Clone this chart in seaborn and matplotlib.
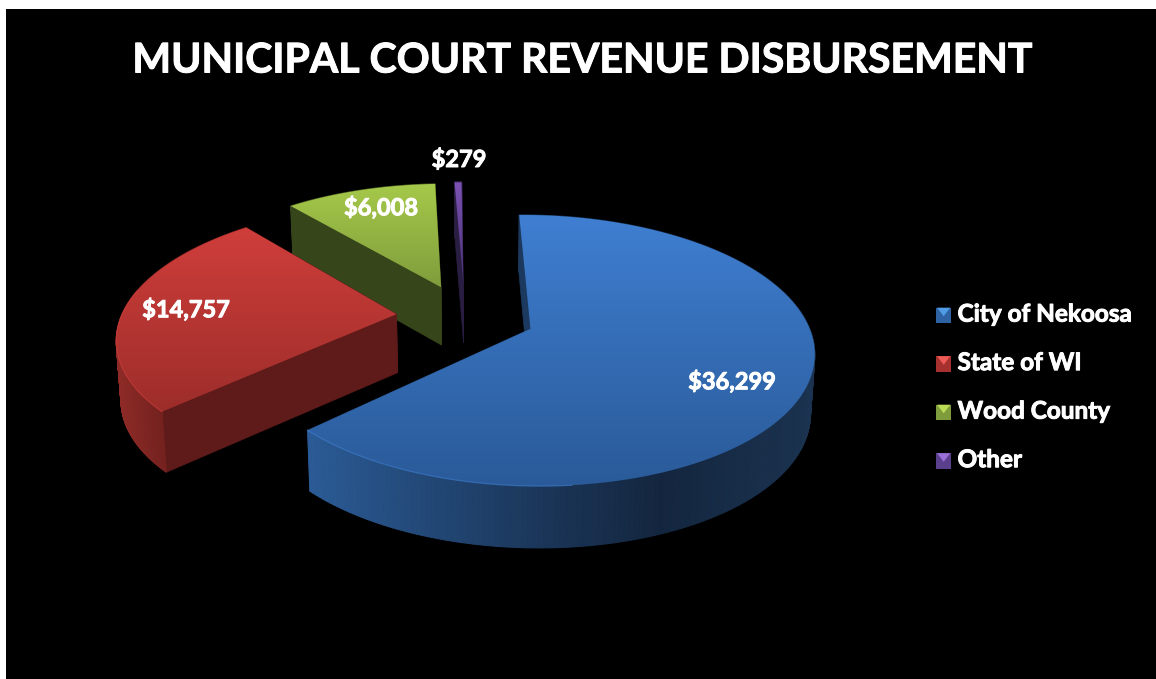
import numpy as np
import seaborn as sns
import matplotlib.pyplot as plt
import matplotlib.patheffects as pe
from matplotlib.collections import PolyCollection
from matplotlib.colors import LinearSegmentedColormap, to_rgb
from matplotlib.legend_handler import HandlerBase
from matplotlib.patches import Patch, Polygon

# Values
categories = ["City of Nekoosa", "State of WI", "Wood County", "Other"]
revenue = [36299, 14757, 6008, 279]
value_labels = ["$36,299", "$14,757", "$6,008", "$279"]
title = "MUNICIPAL COURT REVENUE DISBURSEMENT"

# Look of each slice
explode = [0.255, 0.25, 0.25, 0.25]
top_light = ["#3f7fd2", "#d03e3b", "#a6ca4a", "#7d52b5"]
top_dark = ["#2a5a98", "#9c2d2a", "#7f9c3c", "#44306e"]
legend_main = ["#2f62a3", "#a5302d", "#7f9c3c", "#5a3f8c"]
legend_light = ["#4f9be6", "#ee5a55", "#bddc55", "#9a70d8"]
cut_colour = ["#1c3a5f", "#5e1b19", "#37451a", "#2a1d42"]
side_x = [[306, 540, 660, 814], [116, 168, 168, 398], [290, 441, 441, 441], [455, 465, 465, 465]]
side_colour = [["#2b5b96", "#1b3659", "#14263f", "#1b3350"],
               ["#8f2b27", "#70201e", "#70201e", "#5e1b19"],
               ["#37451a", "#37451a", "#37451a", "#37451a"],
               ["#2a1d42", "#2a1d42", "#2a1d42", "#2a1d42"]]
label_pos = [(732, 381), (186, 309), (381, 207), (459, 159)]

# Camera for the tilted pie, in pixels of the picture
W, H = 1156, 679
CX, CY = 465, 316
VX = 480
RX, RY = 275, 128
K = 0.157


def project(x, y, z=0.0):
    s = 1 / (1 + K * y)
    px = VX + (CX - VX + RX * x) * s
    py = CY - RY * y * s
    depth = (58.5 - 3 * y) * z
    px = VX + (px - VX) * (1 - 0.013 * z)
    return px, py + depth


def hex_mix(xs, colours, x):
    rgb = np.array([to_rgb(c) for c in colours])
    return tuple(np.interp(x, xs, rgb[:, i]) for i in range(3))


class BevelHandler(HandlerBase):
    def create_artists(self, legend, orig_handle, xdescent, ydescent, width, height, fontsize, trans):
        s = height * 0.92
        x0, y0 = -xdescent + width - s, -ydescent - height * 0.1
        square = Polygon([(x0, y0), (x0 + s, y0), (x0 + s, y0 + s), (x0, y0 + s)],
                         facecolor=orig_handle.get_facecolor(), edgecolor="none", transform=trans)
        tri = Polygon([(x0 + s * 0.08, y0 + s), (x0 + s * 0.92, y0 + s), (x0 + s / 2, y0 + s * 0.45)],
                      facecolor=orig_handle.get_edgecolor(), edgecolor="none", transform=trans)
        return [square, tri]


sns.set_theme(style="dark", rc={"axes.facecolor": "black", "figure.facecolor": "white"})
plt.rcParams["font.family"] = ["Lato", "DejaVu Sans"]

fig = plt.figure(figsize=(W / 100, H / 100), dpi=100)
ax = fig.add_axes([6 / W, 0, 1 - 6 / W, 1 - 9 / H])

wedges, _ = ax.pie(revenue, explode=explode, startangle=91, counterclock=False, radius=1)
shapes = [(w.theta1, w.theta2, w.center, w.r) for w in wedges]
for w in wedges:
    w.remove()
ax.set_axis_on()
ax.set_frame_on(True)

# Back slices first so that the nearer ones cover them
for i in [3, 2, 1, 0]:
    t1, t2, (cx, cy), r = shapes[i]
    ang = np.radians(np.linspace(t1, t2, 240))
    ax_x = cx + r * np.cos(ang)
    ax_y = cy + r * np.sin(ang)
    z = 10 + (3 - i) * 10

    tx, ty = project(ax_x, ax_y)
    bx, by = project(ax_x, ax_y, 1)

    # the two cut faces
    apex_t = project(cx, cy)
    apex_b = project(cx, cy, 1)
    for j in [0, -1]:
        ax.add_patch(Polygon([apex_t, (tx[j], ty[j]), (bx[j], by[j]), apex_b],
                             facecolor=cut_colour[i], edgecolor=cut_colour[i], lw=0.5, zorder=z))

    # outer rim
    quads = [[(tx[j], ty[j]), (tx[j + 1], ty[j + 1]), (bx[j + 1], by[j + 1]), (bx[j], by[j])]
             for j in range(len(tx) - 1)]
    cols = [hex_mix(side_x[i], side_colour[i], tx[j]) for j in range(len(tx) - 1)]
    ax.add_collection(PolyCollection(quads, facecolors=cols, edgecolors=cols, linewidths=0.8, zorder=z + 1))

    # top face with a vertical gradient
    outline = np.column_stack([np.r_[apex_t[0], tx], np.r_[apex_t[1], ty]])
    clip = Polygon(outline, facecolor="none", edgecolor="none", zorder=z + 2)
    ax.add_patch(clip)
    cmap = LinearSegmentedColormap.from_list("top%d" % i, [top_light[i], top_dark[i]])
    grad = np.linspace(0, 1, 256).reshape(-1, 1)
    img = ax.imshow(grad, cmap=cmap, aspect="auto", zorder=z + 3,
                    extent=(outline[:, 0].min() - 2, outline[:, 0].max() + 2,
                            outline[:, 1].max() + 2, outline[:, 1].min() - 2))
    img.set_clip_path(clip)

    # lighter rim on the front of the top face
    if i < 2:
        front = (np.sin(ang) < 0) & (np.cos(ang) < 0.1) if i == 0 else np.sin(ang) < 0.2
        ax.plot(tx[front], ty[front], color=top_light[i], lw=0.9, alpha=0.6, zorder=z + 4,
                solid_capstyle="round")

ax.set_aspect("auto")
ax.set_xlim(6, W)
ax.set_ylim(H, 9)
ax.set_xticks([])
ax.set_yticks([])
ax.set_facecolor("black")
for s in ax.spines.values():
    s.set_visible(False)
ax.grid(False)

# Lato is a little lighter than the chart's font, a thin stroke makes up for it
thicker = [pe.withStroke(linewidth=0.7, foreground="white")]
ax.text(582, 61, title, color="white", fontsize=29.5, fontweight="bold", ha="center", va="center",
        zorder=100, path_effects=thicker)
for lab, (lx, ly) in zip(value_labels, label_pos):
    ax.text(lx, ly, lab, color="white", fontsize=17, fontweight="bold", ha="center", va="center",
            zorder=100, path_effects=thicker)

handles = [Patch(facecolor=m, edgecolor=l, label=c) for m, l, c in zip(legend_main, legend_light, categories)]
leg = ax.legend(handles=handles, handler_map={Patch: BevelHandler()}, loc="center left",
                bbox_to_anchor=(926 / W, 0.436), frameon=False, labelcolor="white",
                prop={"family": "Lato", "weight": "bold", "size": 17.5}, labelspacing=1.05,
                handlelength=1.0, handletextpad=0.25, borderpad=0, borderaxespad=0)
leg.set_zorder(100)
for t in leg.get_texts():
    t.set_path_effects(thicker)

fig.savefig("out.png", dpi=100)
